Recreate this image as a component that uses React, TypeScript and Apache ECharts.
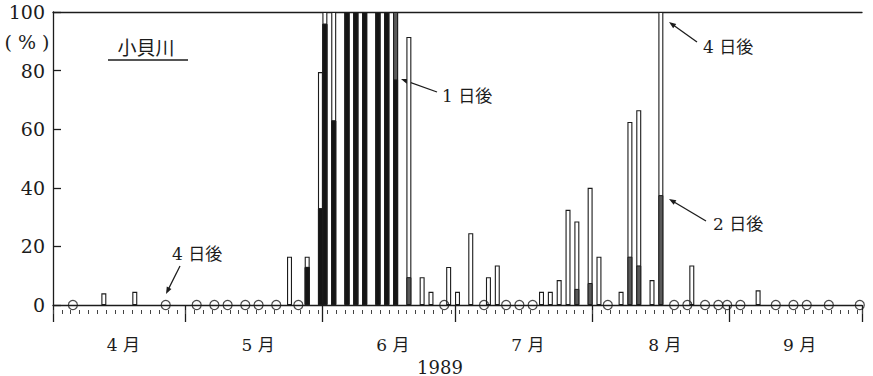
import React, { useEffect, useRef } from "react";
import * as echarts from "echarts";

// ---- axis definitions ----
const monthNames = ["4 月", "5 月", "6 月", "7 月", "8 月", "9 月"];
const monthLengths = [30, 31, 30, 31, 31, 30];
const yearLabel = "1989";
const riverName = "小貝川";

// ---- data (percent) ----
const barDates = [
  "4/12", "4/19", "5/24", "5/28", "5/31", "6/1", "6/3", "6/6", "6/8", "6/10",
  "6/13", "6/15", "6/17", "6/20", "6/23", "6/25", "6/29", "7/1", "7/4", "7/8",
  "7/10", "7/20", "7/22", "7/24", "7/26", "7/28", "7/31", "8/2", "8/7", "8/9",
  "8/11", "8/14", "8/16", "8/23", "9/7",
];
// 4日後 (after 4 days)
const after4 = [
  4, 4.5, 16.5, 16.5, 79.5, 100, 100, 100, 100, 100,
  100, 100, 100, 91.5, 9.5, 4.5, 13, 4.5, 24.5, 9.5,
  13.5, 4.5, 4.5, 8.5, 32.5, 28.5, 40, 16.5, 4.5, 62.5,
  66.5, 8.5, 100, 13.5, 5,
];
// 2日後 (after 2 days)
const after2 = [
  null, null, null, 13, 33, 96, 63, 100, 100, 100,
  100, 100, 100, 9.5, null, null, null, null, null, null,
  null, null, null, null, null, 5.5, 7.5, null, null, 16.5,
  13.5, null, 37.5, null, null,
];
// 1日後 (after 1 day)
const after1 = [
  null, null, null, 13, 33, 96, 63, 100, 100, 100,
  100, 100, 77, null, null, null, null, null, null, null,
  null, null, null, null, null, null, null, null, null, null,
  null, null, null, null, null,
];
// sampling days with 0 %
const zeroDates = [
  "4/5", "4/26", "5/3", "5/7", "5/10", "5/14", "5/17", "5/21", "5/26", "6/28",
  "7/7", "7/12", "7/15", "7/18", "8/4", "8/19", "8/22", "8/26", "8/29", "8/31",
  "9/3", "9/11", "9/15", "9/18", "9/23", "9/30",
];

const FONT = "'DejaVu Serif', 'Noto Sans CJK JP', serif";
const INK = "#1c1c1c";

function dayPos(s: string): number {
  const [m, d] = s.split("/").map(Number);
  let idx = 0;
  for (let k = 0; k < m - 4; k++) idx += monthLengths[k];
  return idx + d - 1 + 0.5;
}

function arrow(fx: number, fy: number, tx: number, ty: number) {
  const dx = fx - tx;
  const dy = fy - ty;
  const len = Math.sqrt(dx * dx + dy * dy);
  const ux = dx / len;
  const uy = dy / len;
  const nx = -uy;
  const ny = ux;
  const hl = 7;
  const hw = 2.6;
  return [
    {
      type: "line",
      shape: { x1: fx, y1: fy, x2: tx + ux * 3, y2: ty + uy * 3 },
      style: { stroke: INK, lineWidth: 1.3 },
    },
    {
      type: "polygon",
      shape: {
        points: [
          [tx, ty],
          [tx + ux * hl + nx * hw, ty + uy * hl + ny * hw],
          [tx + ux * hl - nx * hw, ty + uy * hl - ny * hw],
        ],
      },
      style: { fill: INK },
    },
  ];
}

export default function App() {
  const ref = useRef<HTMLDivElement>(null);

  useEffect(() => {
    if (!ref.current) return;
    const chart = echarts.init(ref.current, undefined, { renderer: "svg" });

    const total = monthLengths.reduce((a, b) => a + b, 0);
    const monthStarts: number[] = [0];
    const monthMids: number[] = [];
    let acc = 0;
    monthLengths.forEach((len) => {
      monthMids.push(acc + len / 2);
      acc += len;
      monthStarts.push(acc);
    });

    const mk = (vals: (number | null)[]) =>
      barDates
        .map((d, i) => (vals[i] == null ? null : [dayPos(d), vals[i]]))
        .filter((v) => v !== null);

    const lineStyle = { color: INK, width: 1.3 };

    const option: any = {
      animation: false,
      grid: { left: 53, right: 11, top: 12, bottom: 71, containLabel: false },
      xAxis: [
        {
          type: "value",
          min: 0,
          max: total,
          position: "bottom",
          axisLine: { show: true, onZero: false, lineStyle },
          axisTick: { show: true, customValues: monthStarts, length: 17, lineStyle },
          axisLabel: {
            show: true,
            customValues: monthMids,
            formatter: (v: number) => monthNames[monthMids.indexOf(v)] ?? "",
            margin: 31,
            fontSize: 17,
            fontFamily: FONT,
            color: INK,
            padding: [0, 0, 0, 8],
          },
          splitLine: { show: false },
        },
        {
          type: "value",
          min: 0,
          max: total,
          interval: 2,
          position: "bottom",
          offset: 5,
          axisLine: { show: true, onZero: false, lineStyle: { color: "rgba(0,0,0,0)", width: 1 } },
          axisTick: { show: true, length: 4, lineStyle: { color: "#444", width: 1 } },
          axisLabel: { show: false },
          splitLine: { show: false },
        },
        {
          type: "value",
          min: 0,
          max: total,
          position: "top",
          axisLine: { show: true, onZero: false, lineStyle },
          axisTick: { show: false },
          axisLabel: { show: false },
          splitLine: { show: false },
        },
      ],
      yAxis: {
        type: "value",
        min: 0,
        max: 100,
        interval: 20,
        axisLine: { show: true, onZero: false, lineStyle },
        axisTick: { show: true, inside: true, length: 8, lineStyle },
        axisLabel: { fontSize: 19, fontFamily: FONT, color: INK, margin: 8 },
        splitLine: { show: false },
      },
      series: [
        {
          name: "4日後",
          type: "bar",
          xAxisIndex: 0,
          barWidth: 5,
          barGap: "-100%",
          data: mk(after4),
          itemStyle: { color: "#ffffff", borderColor: INK, borderWidth: 1.1 },
        },
        {
          name: "2日後",
          type: "bar",
          xAxisIndex: 0,
          barWidth: 5,
          barGap: "-100%",
          data: mk(after2),
          itemStyle: { color: "#5a5a5a", borderColor: INK, borderWidth: 1 },
        },
        {
          name: "1日後",
          type: "bar",
          xAxisIndex: 0,
          barWidth: 5,
          barGap: "-100%",
          data: mk(after1),
          itemStyle: { color: "#151515", borderColor: INK, borderWidth: 1 },
        },
        {
          name: "0",
          type: "scatter",
          xAxisIndex: 0,
          symbol: "circle",
          symbolSize: 9,
          clip: false,
          z: 5,
          data: zeroDates.map((d) => [dayPos(d), 0]),
          itemStyle: { color: "rgba(255,255,255,0)", borderColor: INK, borderWidth: 1.2 },
        },
      ],
      graphic: [
        {
          type: "text",
          x: 27,
          y: 42,
          style: { text: "( % )", font: `19px ${FONT}`, fill: INK, align: "center", verticalAlign: "middle" },
        },
        {
          type: "text",
          x: 146,
          y: 46,
          style: { text: riverName, font: `19px 'Noto Sans CJK JP'`, fill: INK, align: "center", verticalAlign: "middle" },
        },
        {
          type: "line",
          shape: { x1: 108, y1: 60, x2: 188, y2: 60 },
          style: { stroke: INK, lineWidth: 1.5 },
        },
        {
          type: "text",
          x: 442,
          y: 96,
          style: { text: "1 日後", font: `17px ${FONT}`, fill: INK, align: "left", verticalAlign: "middle" },
        },
        ...arrow(437, 92, 401, 79),
        {
          type: "text",
          x: 172,
          y: 254,
          style: { text: "4 日後", font: `17px ${FONT}`, fill: INK, align: "left", verticalAlign: "middle" },
        },
        ...arrow(180, 266, 166, 294),
        {
          type: "text",
          x: 703,
          y: 47,
          style: { text: "4 日後", font: `17px ${FONT}`, fill: INK, align: "left", verticalAlign: "middle" },
        },
        ...arrow(697, 42, 669, 22),
        {
          type: "text",
          x: 713,
          y: 224,
          style: { text: "2 日後", font: `17px ${FONT}`, fill: INK, align: "left", verticalAlign: "middle" },
        },
        ...arrow(706, 221, 669, 199),
        {
          type: "text",
          x: 440,
          y: 367,
          style: { text: yearLabel, font: `18px ${FONT}`, fill: INK, align: "center", verticalAlign: "middle" },
        },
      ],
    };

    chart.setOption(option);
    return () => chart.dispose();
  }, []);

  return (
    <div
      ref={ref}
      style={{ position: "absolute", left: 0, top: 0, width: 873, height: 376 }}
    />
  );
}
